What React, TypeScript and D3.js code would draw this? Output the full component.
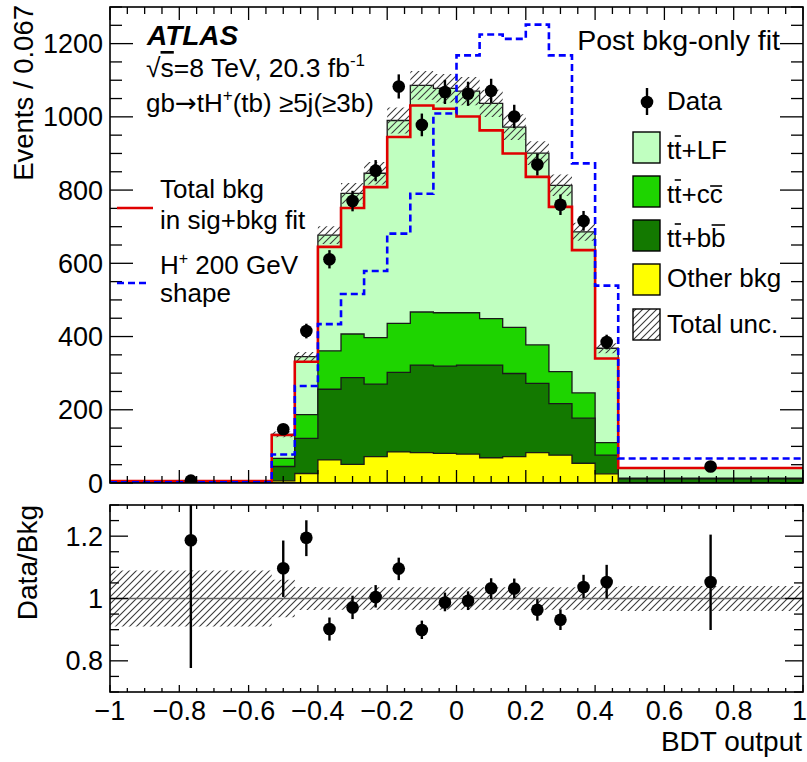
import React from 'react';
import * as d3 from 'd3';

// ---------------- data ----------------
const binEdges = [-1, -0.5333, -0.4667, -0.4, -0.3333, -0.2667, -0.2, -0.1333, -0.0667, 0, 0.0667, 0.1333, 0.2, 0.2667, 0.3333, 0.4, 0.4667, 1];
const otherBkg = [0.5, 6, 26, 63, 51, 72, 85, 83, 81, 79, 69, 72, 83, 76, 54, 25, 1];
const ttbb = [1, 39, 96, 193, 237, 198, 217, 239, 238, 243, 253, 227, 189, 141, 123, 51, 10];
const ttcc = [1, 22, 65, 105, 119, 127, 134, 145, 146, 143, 127, 126, 105, 87, 69, 34, 2];
const ttLF = [3, 66, 158, 316, 384, 449, 554, 619, 613, 605, 588, 547, 524, 509, 440, 258, 27];
const totalUncRel = [0.09, 0.06, 0.037, 0.036, 0.036, 0.036, 0.036, 0.036, 0.036, 0.036, 0.036, 0.036, 0.036, 0.036, 0.036, 0.037, 0.04];
const sigBkgFitTotal = [5, 131, 331, 645, 751, 808, 945, 1031, 1022, 1001, 963, 900, 836, 754, 636, 340, 41];
const hplusShape = [2, 78, 265, 434, 516, 579, 681, 790, 1009, 1168, 1225, 1213, 1252, 1168, 873, 539, 67];
const dataValues = [6.5, 147, 415, 611, 770, 853, 1083, 978, 1068, 1063, 1071, 1001, 870, 760, 716, 385, 45];
const dataErrors = [3, 12, 20, 25, 28, 29, 33, 31, 33, 33, 33, 32, 30, 28, 27, 20, 7];
const ratioValues = [1.187, 1.097, 1.195, 0.902, 0.971, 1.005, 1.096, 0.899, 0.987, 0.993, 1.033, 1.032, 0.964, 0.932, 1.037, 1.053, 1.053];
const ratioErrLow = [0.41, 0.092, 0.059, 0.037, 0.037, 0.034, 0.037, 0.029, 0.028, 0.03, 0.035, 0.032, 0.035, 0.033, 0.036, 0.053, 0.154];
const ratioErrHigh = [0.41, 0.089, 0.056, 0.037, 0.038, 0.038, 0.035, 0.03, 0.032, 0.03, 0.032, 0.032, 0.034, 0.033, 0.039, 0.055, 0.152];
const xTickLabels = [-1, -0.8, -0.6, -0.4, -0.2, 0, 0.2, 0.4, 0.6, 0.8, 1];
const yMainTickLabels = [0, 200, 400, 600, 800, 1000, 1200];
const yRatioTickLabels = [0.8, 1, 1.2];

// ---------------- layout ----------------
const W = 807, H = 762;
const L = 110, R = 803;
const mainTop = 7, mainBottom = 483;
const ratioTop = 505, ratioBottom = 692;
const FONT = '"Liberation Sans", Arial, Helvetica, sans-serif';
const FS = 26;

const colLF = '#c0ffc0';
const colCC = '#1ed400';
const colBB = '#137900';
const colOther = '#ffff00';

// Liberation Sans advance widths (em) used to place the overbars
const EM = { t: 0.278, plus: 0.584, c: 0.5, b: 0.556 };

export default function App() {
  const x = d3.scaleLinear().domain([-1, 1]).range([L, R]);
  const y = d3.scaleLinear().domain([0, 1300]).range([mainBottom, mainTop]);
  const yr = d3.scaleLinear().domain([0.7, 1.3]).range([ratioBottom, ratioTop]);
  const n = otherBkg.length;

  const steps = (vals: number[]): [number, number][] => [
    ...vals.map((v, i) => [binEdges[i], v] as [number, number]),
    [binEdges[n], vals[n - 1]] as [number, number],
  ];

  const cum1 = otherBkg;
  const cum2 = cum1.map((v, i) => v + ttbb[i]);
  const cum3 = cum2.map((v, i) => v + ttcc[i]);
  const total = cum3.map((v, i) => v + ttLF[i]);

  const areaMain = d3.area<[number, number]>()
    .x(d => x(d[0])).y0(y(0)).y1(d => y(d[1])).curve(d3.curveStepAfter);
  const lineMain = d3.line<[number, number]>()
    .x(d => x(d[0])).y(d => y(d[1])).curve(d3.curveStepAfter);

  const bandPts = total.map((t, i) => ({ e: binEdges[i], lo: t * (1 - totalUncRel[i]), hi: t * (1 + totalUncRel[i]) }));
  bandPts.push({ ...bandPts[n - 1], e: binEdges[n] });
  const bandMain = d3.area<{ e: number; lo: number; hi: number }>()
    .x(d => x(d.e)).y0(d => y(d.lo)).y1(d => y(d.hi)).curve(d3.curveStepAfter);

  const rPts = totalUncRel.map((u, i) => ({ e: binEdges[i], lo: 1 - u, hi: 1 + u }));
  rPts.push({ ...rPts[n - 1], e: binEdges[n] });
  const bandRatio = d3.area<{ e: number; lo: number; hi: number }>()
    .x(d => x(d.e)).y0(d => yr(d.lo)).y1(d => yr(d.hi)).curve(d3.curveStepAfter);

  const centers = binEdges.slice(0, n).map((e, i) => (e + binEdges[i + 1]) / 2);

  const layers = [
    { vals: total, fill: colLF },
    { vals: cum3, fill: colCC },
    { vals: cum2, fill: colBB },
    { vals: cum1, fill: colOther },
  ];

  // ticks
  const xMajor = d3.range(-1, 1.0001, 0.2);
  const xMinor = d3.range(-1, 1.0001, 0.05);
  const yMajor = d3.range(0, 1300.1, 200);
  const yMinor = d3.range(0, 1300.1, 50);
  const rMajor = [0.8, 1.0, 1.2];
  const rMinor = d3.range(0.7, 1.3001, 0.05);

  const tick = (x1: number, y1: number, x2: number, y2: number, k: string) => (
    <line key={k} x1={x1} y1={y1} x2={x2} y2={y2} stroke="#000" strokeWidth={1.3} />
  );

  const fmtX = (v: number) => (Math.abs(v) < 1e-9 ? '0' : d3.format('~g')(+v.toFixed(2)));

  // legend entries for the ttbar components
  const ttEntries = [
    { fill: colLF, y0: 132, label: 'LF', bar: null as null | { w: number; dy: number } },
    { fill: colCC, y0: 176, label: 'cc', bar: { w: EM.c, dy: 17 } },
    { fill: colBB, y0: 220, label: 'bb', bar: { w: EM.b, dy: 22 } },
  ];
  const lx = 667;

  return (
    <svg width={W} height={H} style={{ position: 'absolute', left: 0, top: 0, background: '#fff' }} fontFamily={FONT}>
      <defs>
        <pattern id="hatch" patternUnits="userSpaceOnUse" width={7} height={7}>
          <path d="M-1,1 l2,-2 M0,7 l7,-7 M6,8 l2,-2" stroke="#3a3a3a" strokeWidth={1.1} />
        </pattern>
        <clipPath id="clipMain"><rect x={L} y={mainTop} width={R - L} height={mainBottom - mainTop} /></clipPath>
        <clipPath id="clipRatio"><rect x={L} y={ratioTop} width={R - L} height={ratioBottom - ratioTop} /></clipPath>
      </defs>
      <rect x={0} y={0} width={W} height={H} fill="#fff" />

      {/* ---------- main panel ---------- */}
      <g clipPath="url(#clipMain)">
        {layers.map((l, i) => (
          <path key={i} d={areaMain(steps(l.vals)) || ''} fill={l.fill} stroke="#1a1a1a" strokeWidth={1.3} />
        ))}
        <path d={bandMain(bandPts) || ''} fill="url(#hatch)" />
        <path d={lineMain(steps(sigBkgFitTotal)) || ''} fill="none" stroke="#e00000" strokeWidth={2.6} />
        <path d={lineMain(steps(hplusShape)) || ''} fill="none" stroke="#0000ff" strokeWidth={2.6} strokeDasharray="7,4" />
        {centers.map((c, i) => (
          <g key={i}>
            <line x1={x(c)} x2={x(c)} y1={y(dataValues[i] - dataErrors[i])} y2={y(dataValues[i] + dataErrors[i])} stroke="#000" strokeWidth={2.4} />
            <circle cx={x(c)} cy={y(dataValues[i])} r={6.3} fill="#000" />
          </g>
        ))}
      </g>
      {/* main ticks */}
      {yMinor.map((v, i) => {
        const len = yMajor.some(m => Math.abs(m - v) < 1e-6) ? 23 : 12;
        return <g key={'ym' + i}>{tick(L, y(v), L + len, y(v), 'a')}{tick(R, y(v), R - len, y(v), 'b')}</g>;
      })}
      {xMinor.map((v, i) => {
        const len = xMajor.some(m => Math.abs(m - v) < 1e-6) ? 13 : 7;
        return <g key={'xm' + i}>{tick(x(v), mainBottom, x(v), mainBottom - len, 'a')}{tick(x(v), mainTop, x(v), mainTop + len, 'b')}</g>;
      })}
      <rect x={L} y={mainTop} width={R - L} height={mainBottom - mainTop} fill="none" stroke="#000" strokeWidth={1.6} />
      {yMainTickLabels.map(v => (
        <text key={v} x={103} y={y(v) + 9.5} fontSize={27} textAnchor="end">{v}</text>
      ))}
      <text transform={`translate(33,${mainTop - 2}) rotate(-90)`} fontSize={27.5} textAnchor="end">Events / 0.067</text>

      {/* labels */}
      <text x={147} y={45} fontSize={28} fontWeight="bold" fontStyle="italic">ATLAS</text>
      <text x={146} y={77} fontSize={26.5}>
        √<tspan style={{ textDecoration: 'overline' }}>s</tspan>=8 TeV, 20.3 fb<tspan fontSize={17} dy={-11}>-1</tspan>
      </text>
      <text x={146} y={112} fontSize={26}>
        gb<tspan fontFamily='"DejaVu Sans", sans-serif'>→</tspan>tH<tspan fontSize={17} dy={-11}>+</tspan><tspan dy={11}>(tb)  ≥5j(≥3b)</tspan>
      </text>
      <text x={780} y={50} fontSize={28.5} textAnchor="end">Post bkg-only fit</text>

      {/* left legend */}
      <line x1={117} x2={153} y1={208} y2={208} stroke="#e00000" strokeWidth={2.6} />
      <text x={160} y={198} fontSize={FS}>Total bkg</text>
      <text x={160} y={229} fontSize={FS}>in sig+bkg fit</text>
      <line x1={117} x2={150} y1={283} y2={283} stroke="#0000ff" strokeWidth={2.6} strokeDasharray="7,4" />
      <text x={160} y={274} fontSize={FS}>H<tspan fontSize={16} dy={-10}>+</tspan><tspan dy={10}> 200 GeV</tspan></text>
      <text x={160} y={302} fontSize={FS}>shape</text>

      {/* right legend */}
      <line x1={647} x2={647} y1={88} y2={115} stroke="#000" strokeWidth={2.4} />
      <circle cx={647} cy={102} r={6.3} fill="#000" />
      <text x={lx} y={110} fontSize={FS}>Data</text>
      {ttEntries.map((e, i) => {
        const base = e.y0 + 27;
        const t2x = lx + EM.t * FS;
        const qx = lx + (2 * EM.t + EM.plus) * FS + (e.bar ? e.bar.w * FS : 0);
        return (
          <g key={i}>
            <rect x={633} y={e.y0} width={27} height={31} fill={e.fill} stroke="#000" strokeWidth={1.4} />
            <text x={lx} y={base} fontSize={FS}>tt+{e.label}</text>
            <line x1={t2x + 0.5} x2={t2x + EM.t * FS - 0.5} y1={base - 23} y2={base - 23} stroke="#000" strokeWidth={1.6} />
            {e.bar && (
              <line x1={qx + 0.5} x2={qx + e.bar.w * FS - 0.5} y1={base - e.bar.dy} y2={base - e.bar.dy} stroke="#000" strokeWidth={1.6} />
            )}
          </g>
        );
      })}
      <rect x={633} y={264} width={27} height={31} fill={colOther} stroke="#000" strokeWidth={1.4} />
      <text x={lx} y={287} fontSize={FS}>Other bkg</text>
      <rect x={633} y={309} width={27} height={31} fill="url(#hatch)" stroke="#000" strokeWidth={1.4} />
      <text x={lx} y={333} fontSize={FS}>Total unc.</text>

      {/* ---------- ratio panel ---------- */}
      <g clipPath="url(#clipRatio)">
        <path d={bandRatio(rPts) || ''} fill="url(#hatch)" />
        <line x1={L} x2={R} y1={yr(1)} y2={yr(1)} stroke="#666" strokeWidth={1.6} />
        {centers.map((c, i) => (
          <g key={i}>
            <line x1={x(c)} x2={x(c)} y1={yr(ratioValues[i] - ratioErrLow[i])} y2={yr(ratioValues[i] + ratioErrHigh[i])} stroke="#000" strokeWidth={2.4} />
            <circle cx={x(c)} cy={yr(ratioValues[i])} r={6.3} fill="#000" />
          </g>
        ))}
      </g>
      {rMinor.map((v, i) => {
        const len = rMajor.some(m => Math.abs(m - v) < 1e-6) ? 18 : 9;
        return <g key={'rm' + i}>{tick(L, yr(v), L + len, yr(v), 'a')}{tick(R, yr(v), R - len, yr(v), 'b')}</g>;
      })}
      {xMinor.map((v, i) => {
        const len = xMajor.some(m => Math.abs(m - v) < 1e-6) ? 7 : 4;
        return <g key={'xr' + i}>{tick(x(v), ratioBottom, x(v), ratioBottom - len, 'a')}{tick(x(v), ratioTop, x(v), ratioTop + len, 'b')}</g>;
      })}
      <rect x={L} y={ratioTop} width={R - L} height={ratioBottom - ratioTop} fill="none" stroke="#000" strokeWidth={1.6} />
      {yRatioTickLabels.map(v => (
        <text key={v} x={103} y={yr(v) + 9.5} fontSize={27} textAnchor="end">{v === 1 ? '1' : v.toFixed(1)}</text>
      ))}
      {xTickLabels.map((v, i) => (
        <text key={v} x={i === xTickLabels.length - 1 ? W : x(v)} y={720} fontSize={27}
          textAnchor={i === xTickLabels.length - 1 ? 'end' : 'middle'}>{fmtX(v)}</text>
      ))}
      <text transform={`translate(37,${ratioTop}) rotate(-90)`} fontSize={28} textAnchor="end">Data/Bkg</text>
      <text x={802} y={751} fontSize={28} textAnchor="end">BDT output</text>
    </svg>
  );
}
